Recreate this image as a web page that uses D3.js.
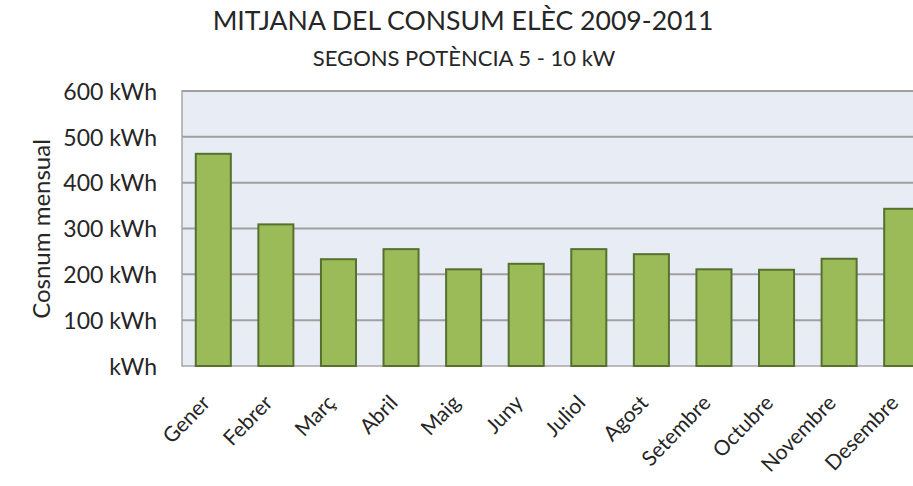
<!DOCTYPE html>
<html>
<head>
<meta charset="utf-8">
<script src="https://cdn.jsdelivr.net/npm/d3@7/dist/d3.min.js"></script>
<style>
  body { margin: 0; background: #fff; }
  svg { display: block; font-family: Lato, 'Open Sans', sans-serif; }
  .axis-y .domain, .axis-y line { display: none; }
  .axis-x .domain, .axis-x line { display: none; }
</style>
</head>
<body>
<svg id="chart" width="913" height="486"></svg>
<script>
const months = ['Gener', 'Febrer', 'Març', 'Abril', 'Maig', 'Juny', 'Juliol',
  'Agost', 'Setembre', 'Octubre', 'Novembre', 'Desembre'];
const consum = [463, 309, 233, 255, 211, 223, 255, 244, 211, 210, 234, 343];
const y_ticks = [0, 100, 200, 300, 400, 500, 600];

const margin = { top: 91, left: 182 };
const plot_h = 275;
const plot_w = 751; // wider than the window, the last bar is cut off

const svg = d3.select('#chart');

const x = d3.scaleBand().domain(months).range([0, plot_w]).paddingInner(0.44).paddingOuter(0.22);
const y = d3.scaleLinear().domain([0, 600]).range([plot_h, 0]);

const g = svg.append('g').attr('transform', `translate(${margin.left},${margin.top})`);

g.append('rect')
  .attr('width', plot_w)
  .attr('height', plot_h)
  .attr('fill', '#e8edf5')
  .attr('stroke', '#a6a6a6')
  .attr('stroke-width', 1.5);

g.selectAll('.grid')
  .data(y_ticks.filter(d => d > 0))
  .join('line')
  .attr('class', 'grid')
  .attr('x1', 0)
  .attr('x2', plot_w)
  .attr('y1', d => y(d))
  .attr('y2', d => y(d))
  .attr('stroke', '#a0a0a0')
  .attr('stroke-width', 2);

g.selectAll('.bar')
  .data(consum)
  .join('rect')
  .attr('class', 'bar')
  .attr('x', (d, i) => x(months[i]))
  .attr('y', d => y(d))
  .attr('width', x.bandwidth())
  .attr('height', d => plot_h - y(d))
  .attr('fill', '#9bbb59')
  .attr('stroke', '#56702f')
  .attr('stroke-width', 2);

const axis_y = d3.axisLeft(y)
  .tickValues(y_ticks)
  .tickFormat(d => (d === 0 ? '' : d) + ' kWh')
  .tickSize(0)
  .tickPadding(25);

g.append('g')
  .attr('class', 'axis-y')
  .call(axis_y)
  .selectAll('text')
  .attr('font-size', 23)
  .attr('font-family', 'Lato, sans-serif')
  .attr('fill', '#262626')
  .attr('dy', '0.36em');

g.append('g')
  .attr('class', 'axis-x')
  .attr('transform', `translate(0,${plot_h})`)
  .call(d3.axisBottom(x).tickSize(0).tickPadding(0))
  .selectAll('text')
  .attr('font-size', 21)
  .attr('font-family', 'Lato, sans-serif')
  .attr('fill', '#262626')
  .attr('text-anchor', 'end')
  .attr('y', 0)
  .attr('dy', 0)
  .attr('transform', 'translate(-2,38) rotate(-46)');

svg.append('text')
  .attr('transform', 'translate(50,229) rotate(-90)')
  .attr('text-anchor', 'middle')
  .attr('font-size', 24)
  .attr('fill', '#262626')
  .text('Cosnum mensual');

svg.append('text')
  .attr('x', 463)
  .attr('y', 30)
  .attr('text-anchor', 'middle')
  .attr('font-size', 26.6)
  .attr('fill', '#262626')
  .text('MITJANA DEL CONSUM ELÈC 2009-2011');

svg.append('text')
  .attr('x', 464)
  .attr('y', 66)
  .attr('text-anchor', 'middle')
  .attr('font-size', 22)
  .attr('fill', '#262626')
  .text('SEGONS POTÈNCIA 5 - 10 kW');
</script>
</body>
</html>
